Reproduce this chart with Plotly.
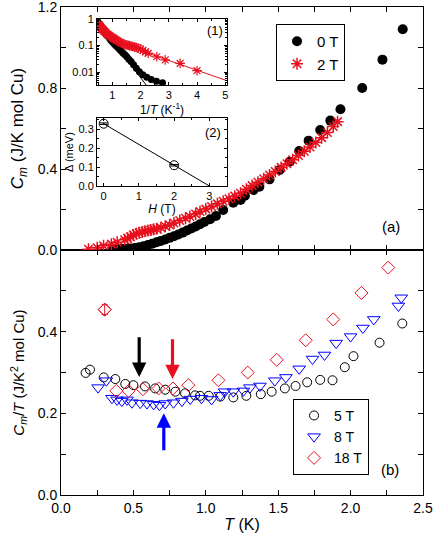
import plotly.graph_objects as go

# ---------- panel (a): C_m vs T ----------
T_0T = [0.36, 0.39, 0.42, 0.45, 0.48, 0.51, 0.54, 0.57, 0.60, 0.63, 0.66, 0.69, 0.72, 0.75,
        0.78, 0.81, 0.84, 0.87, 0.90, 0.93, 0.96, 0.99, 1.03, 1.07, 1.12, 1.19, 1.24, 1.27,
        1.33, 1.37, 1.44, 1.51, 1.58, 1.645, 1.71, 1.79, 1.86, 1.93, 2.08, 2.22, 2.36]
C_0T = [0.004, 0.0046, 0.0053, 0.0064, 0.0080, 0.0105, 0.014, 0.019, 0.025, 0.031, 0.038,
        0.045, 0.052, 0.060, 0.068, 0.077, 0.086, 0.096, 0.106, 0.116, 0.127, 0.138, 0.152,
        0.168, 0.198, 0.234, 0.247, 0.268, 0.296, 0.313, 0.349, 0.395, 0.436, 0.489, 0.540,
        0.593, 0.639, 0.695, 0.800, 0.940, 1.090]

T_2T = [0.19, 0.25, 0.294, 0.348, 0.388, 0.44, 0.46, 0.48, 0.50, 0.52, 0.54, 0.56, 0.58,
        0.60, 0.62, 0.64, 0.66, 0.69, 0.72, 0.75, 0.78, 0.82, 0.86, 0.89, 0.93, 0.96, 1.00,
        1.04, 1.08, 1.12, 1.16, 1.20, 1.24, 1.28, 1.32, 1.36, 1.40, 1.44, 1.48, 1.52, 1.56,
        1.60, 1.64, 1.68, 1.72, 1.76, 1.80, 1.84, 1.88, 1.91]
C_2T = [0.004, 0.0114, 0.0215, 0.029, 0.038, 0.051, 0.058, 0.066, 0.074, 0.080, 0.085,
        0.089, 0.093, 0.096, 0.099, 0.102, 0.105, 0.110, 0.117, 0.124, 0.133, 0.146, 0.157,
        0.166, 0.178, 0.190, 0.202, 0.215, 0.228, 0.241, 0.253, 0.266, 0.280, 0.300, 0.318,
        0.335, 0.352, 0.370, 0.388, 0.408, 0.426, 0.446, 0.467, 0.488, 0.509, 0.531, 0.555,
        0.580, 0.610, 0.634]

# inset (1): exponential fits, log C vs 1/T
fit0_invT = [0.5, 2.2]
fit0_C = [0.75, 0.0033]
fit2_invT = [1.5, 5.06]
fit2_C = [0.099, 0.0048]

# inset (2): gap vs field
H_gap = [0, 2]
gap = [0.33, 0.11]
gap_err = [0.004, 0.004]
H_line = [0, 3]
gap_line = [0.33, 0.0]

# ---------- panel (b): C_m/T vs T ----------
T_5T = [0.17, 0.20, 0.295, 0.375, 0.444, 0.50, 0.58, 0.65, 0.72, 0.79, 0.857, 0.926, 0.96,
        1.02, 1.10, 1.19, 1.28, 1.38, 1.455, 1.546, 1.62, 1.70, 1.79, 1.875, 1.96, 2.02,
        2.20, 2.357]
CT_5T = [0.299, 0.307, 0.288, 0.284, 0.272, 0.269, 0.266, 0.261, 0.258, 0.253, 0.249, 0.244,
         0.243, 0.243, 0.241, 0.239, 0.243, 0.247, 0.253, 0.261, 0.267, 0.276, 0.282, 0.281,
         0.313, 0.340, 0.373, 0.420]

T_8T = [0.256, 0.313, 0.352, 0.387, 0.42, 0.456, 0.49, 0.547, 0.594, 0.64, 0.68, 0.72,
        0.777, 0.835, 0.892, 0.97, 1.04, 1.10, 1.13, 1.19, 1.26, 1.305, 1.374, 1.477, 1.553,
        1.645, 1.737, 1.82, 1.90, 2.0, 2.085, 2.16, 2.33, 2.35]
CT_8T = [0.263, 0.280, 0.237, 0.233, 0.230, 0.233, 0.226, 0.225, 0.224, 0.222, 0.220, 0.224,
         0.226, 0.230, 0.235, 0.237, 0.234, 0.244, 0.253, 0.253, 0.255, 0.263, 0.267, 0.280,
         0.288, 0.309, 0.333, 0.343, 0.372, 0.388, 0.409, 0.430, 0.463, 0.483]

T_18T = [0.302, 0.382, 0.467, 0.566, 0.674, 0.773, 0.88, 1.087, 1.29, 1.49, 1.69, 1.88,
         2.075, 2.26]
CT_18T = [0.454, 0.255, 0.255, 0.259, 0.261, 0.261, 0.269, 0.281, 0.300, 0.331, 0.379, 0.430,
          0.495, 0.557]
err_18T_first = [0.012]

# arrows marking the minima
arrow_T = [0.54, 0.77, 0.71]
arrow_tail = [0.39, 0.385, 0.106]
arrow_tip = [0.289, 0.284, 0.200]
arrow_color = ["black", "#e8101e", "#0000ff"]

# tick labels
x_ticks = [0.0, 0.5, 1.0, 1.5, 2.0, 2.5]
ya_ticks = [0.0, 0.4, 0.8, 1.2]
yb_ticks = [0.0, 0.2, 0.4]
inset1_y_ticks = [0.01, 0.1, 1]
inset1_y_text = ["0.01", "0.1", "1"]

RED = "#e8101e"
BLUE = "#0000ff"
FONT = "Liberation Sans, Arial, sans-serif"

fig = go.Figure()

# ==========================================
# PANEL (a)
# ==========================================
fig.add_trace(go.Scatter(
    x=T_0T, y=C_0T, mode="markers", name="0 T", xaxis="x2", yaxis="y2", legend="legend",
    marker=dict(symbol="circle", size=10, color="black")
))
fig.add_trace(go.Scatter(
    x=T_2T, y=C_2T, mode="markers", name="2 T", xaxis="x2", yaxis="y2", legend="legend",
    marker=dict(symbol="asterisk-open", size=10, color=RED, line=dict(color=RED, width=1.5))
))

# ==========================================
# INSET (1)
# ==========================================
fig.add_trace(go.Scatter(
    x=fit0_invT, y=fit0_C, mode="lines", xaxis="x3", yaxis="y3", showlegend=False,
    line=dict(color="black", width=1)
))
fig.add_trace(go.Scatter(
    x=fit2_invT, y=fit2_C, mode="lines", xaxis="x3", yaxis="y3", showlegend=False,
    line=dict(color=RED, width=1)
))
fig.add_trace(go.Scatter(
    x=[1 / t for t in T_0T], y=C_0T, mode="markers", xaxis="x3", yaxis="y3", showlegend=False,
    marker=dict(symbol="circle", size=7, color="black")
))
fig.add_trace(go.Scatter(
    x=[1 / t for t in T_2T], y=C_2T, mode="markers", xaxis="x3", yaxis="y3", showlegend=False,
    marker=dict(symbol="asterisk-open", size=8, color=RED, line=dict(color=RED, width=1.2))
))

# ==========================================
# INSET (2)
# ==========================================
fig.add_trace(go.Scatter(
    x=H_line, y=gap_line, mode="lines", xaxis="x4", yaxis="y4", showlegend=False,
    line=dict(color="black", width=1)
))
fig.add_trace(go.Scatter(
    x=H_gap, y=gap, mode="markers", xaxis="x4", yaxis="y4", showlegend=False,
    error_y=dict(type="data", array=gap_err, color="black", thickness=1, width=4),
    marker=dict(symbol="circle-open", size=9, color="black", line=dict(color="black", width=1))
))

# ==========================================
# PANEL (b)
# ==========================================
fig.add_trace(go.Scatter(
    x=T_5T, y=CT_5T, mode="markers", name="5 T", xaxis="x", yaxis="y", legend="legend2",
    marker=dict(symbol="circle-open", size=9, color="black", line=dict(color="black", width=1))
))
fig.add_trace(go.Scatter(
    x=T_8T, y=CT_8T, mode="markers", name="8 T", xaxis="x", yaxis="y", legend="legend2",
    marker=dict(symbol="triangle-down-open", size=11, color=BLUE, line=dict(color=BLUE, width=1))
))
fig.add_trace(go.Scatter(
    x=T_18T, y=CT_18T, mode="markers", name="18 T", xaxis="x", yaxis="y", legend="legend2",
    marker=dict(symbol="diamond-open", size=10, color=RED, line=dict(color=RED, width=1))
))
fig.add_trace(go.Scatter(
    x=T_18T[:1], y=CT_18T[:1], mode="markers", xaxis="x", yaxis="y", showlegend=False,
    error_y=dict(type="data", array=err_18T_first, color=RED, thickness=1, width=3),
    marker=dict(symbol="diamond-open", size=10, color=RED, line=dict(color=RED, width=1))
))

# arrows
for t, tail, tip, col in zip(arrow_T, arrow_tail, arrow_tip, arrow_color):
    fig.add_annotation(
        x=t, y=tip, ax=t, ay=tail, xref="x", yref="y", axref="x", ayref="y",
        text="", showarrow=True, arrowhead=2, arrowsize=0.9, arrowwidth=3.2,
        arrowcolor=col, standoff=0
    )

# panel labels
fig.add_annotation(x=2.28, y=0.115, xref="x2", yref="y2", text="(a)", showarrow=False,
                   font=dict(size=15))
fig.add_annotation(x=2.27, y=0.062, xref="x", yref="y", text="(b)", showarrow=False,
                   font=dict(size=15))
fig.add_annotation(x=4.64, y=-0.45, xref="x3", yref="y3", text="(1)", showarrow=False,
                   font=dict(size=13))
fig.add_annotation(x=3.09, y=0.284, xref="x4", yref="y4", text="(2)", showarrow=False,
                   font=dict(size=13))

main_axis = dict(
    showline=True, linecolor="black", linewidth=1, mirror="ticks",
    ticks="inside", ticklen=5, tickcolor="black", showgrid=False, zeroline=False,
    tickfont=dict(size=14), automargin=False, ticklabeloverflow="allow"
)
inset_axis = dict(
    showline=True, linecolor="black", linewidth=1, mirror="ticks",
    ticks="inside", ticklen=3, tickcolor="black", showgrid=False, zeroline=False,
    tickfont=dict(size=11), automargin=False, ticklabeloverflow="allow"
)

log_minor = [m * 10 ** e for e in (-3, -2, -1) for m in range(2, 10)]

fig.update_layout(
    width=436, height=546,
    margin=dict(l=61, r=13, t=7, b=51),
    plot_bgcolor="white", paper_bgcolor="white",
    font=dict(family=FONT, color="black"),
    xaxis=dict(main_axis, domain=[0, 1], range=[0, 2.5], tickmode="array", tickvals=x_ticks,
               tickformat=".1f", anchor="y",
               minor=dict(dtick=0.25, ticks="inside", ticklen=5, tickcolor="black"),
               title=dict(text="<i>T</i> (K)", font=dict(size=16), standoff=4)),
    yaxis=dict(main_axis, domain=[0, 0.502], range=[0, 0.6], tickmode="array",
               tickvals=yb_ticks, tickformat=".1f", anchor="x",
               minor=dict(dtick=0.1, ticks="inside", ticklen=5, tickcolor="black"),
               title=dict(text="<i>C<sub>m</sub></i>/<i>T</i> (J/K<sup>2</sup> mol Cu)",
                          font=dict(size=15), standoff=9)),
    xaxis2=dict(main_axis, domain=[0, 1], range=[0, 2.5], dtick=0.5, showticklabels=False,
                anchor="y2", matches="x",
                minor=dict(dtick=0.25, ticks="inside", ticklen=5, tickcolor="black")),
    yaxis2=dict(main_axis, domain=[0.502, 1], range=[0, 1.2], tickmode="array",
                tickvals=ya_ticks, tickformat=".1f", anchor="x2",
                minor=dict(dtick=0.2, ticks="inside", ticklen=5, tickcolor="black"),
                title=dict(text="<i>C<sub>m</sub></i> (J/K mol Cu)", font=dict(size=17),
                           standoff=9)),
    xaxis3=dict(inset_axis, domain=[0.0994, 0.4586], range=[0.46, 5.06], dtick=1, tick0=0,
                anchor="y3", minor=dict(dtick=0.5, ticks="inside", ticklen=2, tickcolor="black"),
                title=dict(text="1/<i>T</i> (K<sup>-1</sup>)", font=dict(size=12), standoff=1)),
    yaxis3=dict(inset_axis, domain=[0.8402, 0.9754], type="log", range=[-2.48, 0],
                tickmode="array", tickvals=inset1_y_ticks, ticktext=inset1_y_text,
                anchor="x3",
                minor=dict(tickmode="array", tickvals=log_minor, ticks="inside", ticklen=2,
                           tickcolor="black")),
    xaxis4=dict(inset_axis, domain=[0.0994, 0.4586], range=[-0.19, 3.5], dtick=1,
                anchor="y4", minor=dict(dtick=0.5, ticks="inside", ticklen=2, tickcolor="black"),
                title=dict(text="<i>H</i> (T)", font=dict(size=12), standoff=1)),
    yaxis4=dict(inset_axis, domain=[0.6332, 0.7725], range=[0, 0.36], dtick=0.1,
                tickformat=".1f", anchor="x4",
                minor=dict(dtick=0.05, ticks="inside", ticklen=2, tickcolor="black"),
                title=dict(text="Δ (meV)", font=dict(size=11), standoff=2)),
    legend=dict(x=0.594, y=0.965, xanchor="left", yanchor="top", bgcolor="white",
                bordercolor="black", borderwidth=1, font=dict(size=15), tracegroupgap=0,
                itemwidth=30),
    legend2=dict(x=0.641, y=0.197, xanchor="left", yanchor="top", bgcolor="white",
                 bordercolor="black", borderwidth=1, font=dict(size=14), tracegroupgap=0,
                 itemwidth=30),
)

# the page's default 8px body margin would shift the figure
fig.write_html("out.html", config={"displayModeBar": False},
               post_script="document.body.style.margin = '0px';")
